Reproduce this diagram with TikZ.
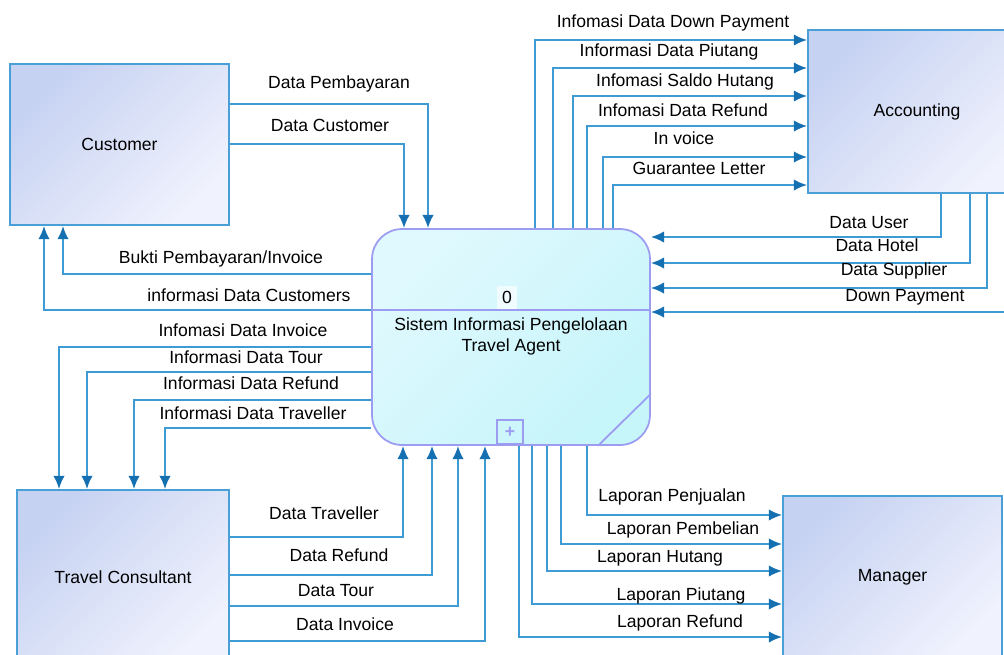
\documentclass[tikz,border=0pt]{standalone}
\usepackage{fontspec}
\setmainfont{Liberation Sans}
\usepackage{tikz}
\usetikzlibrary{arrows.meta,shapes}
\definecolor{flowblue}{HTML}{3E9BD3}
\definecolor{tipblue}{HTML}{1570B2}
\definecolor{entline}{HTML}{4A9FD6}
\definecolor{entdark}{HTML}{C6D2F2}
\definecolor{entlight}{HTML}{F0F2FD}
\definecolor{procline}{HTML}{9C9CF0}
\definecolor{proclight}{HTML}{E0F9FE}
\definecolor{procdark}{HTML}{C6F5FA}
\tikzset{
	entity/.style={draw=entline, line width=1.1pt, top color=entdark, bottom color=entlight, shading angle=45, inner sep=0pt},
	process/.style={draw=procline, line width=1pt, rounded corners=0.6cm, top color=proclight, bottom color=procdark, shading angle=45, minimum width=5.56cm, minimum height=4.32cm},
	flow/.style={draw=flowblue, line width=1.1pt, -{Latex[length=7.5pt,width=6.5pt,color=tipblue]}},
	lbl/.style={inner sep=1pt}
}

\begin{document}
\begin{tikzpicture}[x=0.02cm,y=-0.02cm,font=\fontsize{10}{12}\selectfont]
	\useasboundingbox (0,0) rectangle (1004,654);
	\clip (0,0) rectangle (1004,654);
	%
	%  ENTITIES
	%
	\node[entity,minimum width=4.38cm,minimum height=3.22cm] (cust) at (119.5,144.5) {Customer};
	\node[entity,minimum width=4.36cm,minimum height=3.26cm] (acc) at (917,111.5) {Accounting};
	\node[entity,minimum width=4.24cm,minimum height=3.48cm] (tc) at (123,577) {Travel Consultant};
	\node[entity,minimum width=4.38cm,minimum height=3.24cm] (mgr) at (892.5,577) {Manager};
	%
	%  PROCESS
	%
	\node[process] (proc) at (511,337) {};
	\draw[procline,line width=1pt] (proc.west |- 0,310) -- (proc.east |- 0,310);
	\draw[procline,line width=1pt] ([yshift=1.04cm]proc.south east) -- ([xshift=-1.06cm]proc.south east);
	\node[draw=procline,line width=1pt,minimum width=0.52cm,minimum height=0.48cm,inner sep=0pt,text=procline] (sub) at (510,432) {\textbf{+}};
	\node[fill=white!55!proclight,inner sep=3pt] (procid) at (507,297) {0};
	\node[align=center] (procname) at (511,336) {Sistem Informasi Pengelolaan\\Travel Agent};
	%
	%  FLOWS CUSTOMER
	%
	\draw[flow] (cust.east |- 0,104) -| (proc.north -| 428,0);
	\draw[flow] (cust.east |- 0,144) -| (proc.north -| 404,0);
	\draw[flow] (proc.west |- 0,274) -| (cust.south -| 63,0);
	\draw[flow] (proc.west |- 0,310) -| (cust.south -| 44,0);
	\node[lbl] (lPemb) at (339,84) {Data Pembayaran};
	\node[lbl] (lCust) at (330,125) {Data Customer};
	\node[lbl] (lBukti) at (221,259) {Bukti Pembayaran/Invoice};
	\node[lbl] (lInfCust) at (249,295) {informasi Data Customers};
	%
	%  FLOWS TRAVEL CONSULTANT
	%
	\draw[flow] (proc.west |- 0,347) -| (tc.north -| 59,0);
	\draw[flow] (proc.west |- 0,372) -| (tc.north -| 87,0);
	\draw[flow] (proc.west |- 0,400) -| (tc.north -| 134,0);
	\draw[flow] (proc.west |- 0,428) -| (tc.north -| 165,0);
	\draw[flow] (tc.east |- 0,537) -| (proc.south -| 403,0);
	\draw[flow] (tc.east |- 0,575) -| (proc.south -| 432,0);
	\draw[flow] (tc.east |- 0,606) -| (proc.south -| 458,0);
	\draw[flow] (tc.east |- 0,641) -| (proc.south -| 485,0);
	\node[lbl] (lInfInv) at (243,330) {Infomasi Data Invoice};
	\node[lbl] (lInfTour) at (246,357) {Informasi Data Tour};
	\node[lbl] (lInfRef) at (251,383) {Informasi Data Refund};
	\node[lbl] (lInfTrav) at (253,413) {Informasi Data Traveller};
	\node[lbl] (lTrav) at (324,513) {Data Traveller};
	\node[lbl] (lRef) at (339,555) {Data Refund};
	\node[lbl] (lTour) at (336,591) {Data Tour};
	\node[lbl] (lInv) at (345,624) {Data Invoice};
	%
	%  FLOWS ACCOUNTING
	%
	\draw[flow] (proc.north -| 535,0) |- (acc.west |- 0,40);
	\draw[flow] (proc.north -| 553,0) |- (acc.west |- 0,68);
	\draw[flow] (proc.north -| 573,0) |- (acc.west |- 0,96);
	\draw[flow] (proc.north -| 587,0) |- (acc.west |- 0,126);
	\draw[flow] (proc.north -| 603,0) |- (acc.west |- 0,157);
	\draw[flow] (proc.north -| 613,0) |- (acc.west |- 0,185);
	\draw[flow] (acc.south -| 941,0) |- (proc.east |- 0,237);
	\draw[flow] (acc.south -| 970,0) |- (proc.east |- 0,263);
	\draw[flow] (acc.south -| 987,0) |- (proc.east |- 0,288);
	\coordinate (dpin) at (1010,312);
	\draw[flow] (dpin) -- (proc.east |- dpin);
	\node[lbl] (lDown) at (673,23) {Infomasi Data Down Payment};
	\node[lbl] (lPiut) at (669,52) {Informasi Data Piutang};
	\node[lbl] (lSaldo) at (685,82) {Infomasi Saldo Hutang};
	\node[lbl] (lAccRef) at (683,110) {Infomasi Data Refund};
	\node[lbl] (lInvc) at (684,138) {In voice};
	\node[lbl] (lGuar) at (699,168) {Guarantee Letter};
	\node[lbl] (lUser) at (869,223) {Data User};
	\node[lbl] (lHotel) at (877,245) {Data Hotel};
	\node[lbl] (lSupp) at (894,271) {Data Supplier};
	\node[lbl] (lDP) at (905,297) {Down Payment};
	%
	%  FLOWS MANAGER
	%
	\draw[flow] (proc.south -| 587,0) |- (mgr.west |- 0,515);
	\draw[flow] (proc.south -| 561,0) |- (mgr.west |- 0,544);
	\draw[flow] (proc.south -| 547,0) |- (mgr.west |- 0,571);
	\draw[flow] (proc.south -| 532,0) |- (mgr.west |- 0,604);
	\draw[flow] (proc.south -| 519,0) |- (mgr.west |- 0,637);
	\node[lbl] (lJual) at (672,497) {Laporan Penjualan};
	\node[lbl] (lBeli) at (683,530) {Laporan Pembelian};
	\node[lbl] (lHut) at (660,558) {Laporan Hutang};
	\node[lbl] (lPiu) at (681,596) {Laporan Piutang};
	\node[lbl] (lLapRef) at (680,623) {Laporan Refund};
\end{tikzpicture}
\end{document}
